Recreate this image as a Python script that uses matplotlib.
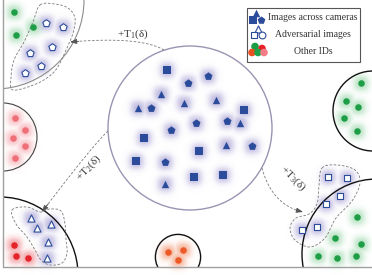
import numpy as np
import matplotlib
matplotlib.use('Agg')
import matplotlib.pyplot as plt
from matplotlib.patches import Circle, Rectangle

plt.rcParams['font.family'] = ['Liberation Serif', 'DejaVu Serif']
plt.rcParams['mathtext.fontset'] = 'custom'
plt.rcParams['mathtext.rm'] = 'Liberation Serif'
plt.rcParams['mathtext.it'] = 'Liberation Serif'

W, H = 372, 275

# ---- data (pixel positions) ----
# images across cameras (centre circle)
cam_sq_x = [167, 244, 144, 199, 136, 194, 223]
cam_sq_y = [70, 110, 138, 151, 161, 177, 175]
cam_pent_x = [188, 208, 151, 196, 227, 171, 252, 165]
cam_pent_y = [83, 76, 108, 123, 121, 130, 146, 162]
cam_tri_x = [161, 138, 184, 216, 240, 226, 165]
cam_tri_y = [94, 108, 103, 100, 123, 145, 184]

# adversarial images
adv_pent_x = [46, 63, 52, 30, 41, 25]
adv_pent_y = [23, 27, 47, 53, 66, 73]
adv_tri_x = [31, 37, 51, 48, 47]
adv_tri_y = [218, 228, 224, 242, 258]
adv_sq_x = [328, 347, 340, 326, 317, 302]
adv_sq_y = [177, 178, 196, 204, 227, 230]

# other IDs
green_tl_x = [14, 33, 16]
green_tl_y = [12, 27, 35]
pink_x = [15, 25, 13, 25, 15]
pink_y = [118, 130, 138, 146, 158]
red_x = [14, 16, 28]
red_y = [245, 256, 258]
orange_x = [168, 183, 178]
orange_y = [252, 250, 260]
green_tr_x = [361, 346, 358, 344, 357]
green_tr_y = [83, 101, 107, 118, 131]
green_br_x = [357, 335, 361, 318, 337, 356]
green_br_y = [217, 238, 244, 256, 258, 256]

legend_labels = ['Images across cameras', 'Adversarial images', 'Other IDs']
arrow_labels = [r'+T$_1$(δ)', r'+T$_2$(δ)', r'+T$_3$(δ)']

BLUE = '#2b4c9b'
GREEN = '#1e9e46'
PINK = '#ef6f79'
RED = '#e4232b'
ORANGE = '#ec5a28'

fig = plt.figure(figsize=(W / 100, H / 100), dpi=100)
ax = fig.add_axes([0, 0, 1, 1])

yy, xx = np.mgrid[0:H:0.5, 0:W:0.5]


def glow(xs, ys, color, half=6.5, soft=2.0, alpha=0.85):
    a = np.zeros_like(xx)
    for x, y in zip(xs, ys):
        fx = 1 / (1 + np.exp((np.abs(xx - x) - half) / soft))
        fy = 1 / (1 + np.exp((np.abs(yy - y) - half) / soft))
        a = np.maximum(a, fx * fy)
    img = np.zeros(xx.shape + (4,))
    img[..., :3] = matplotlib.colors.to_rgb(color)
    img[..., 3] = a * alpha
    ax.imshow(img, extent=(0, W, H, 0), interpolation='bilinear', zorder=1, aspect='auto')


def closed_curve(pts, n=30):
    P = np.array(pts, float)
    m = len(P)
    out = []
    t = np.linspace(0, 1, n, endpoint=False)[:, None]
    for i in range(m):
        p0, p1, p2, p3 = P[i - 1], P[i], P[(i + 1) % m], P[(i + 2) % m]
        out.append(0.5 * (2 * p1 + (-p0 + p2) * t + (2 * p0 - 5 * p1 + 4 * p2 - p3) * t ** 2
                          + (-p0 + 3 * p1 - 3 * p2 + p3) * t ** 3))
    out = np.vstack(out)
    return np.vstack([out, out[:1]])


def dashed_arrow(p0, p1, p2):
    p0, p1, p2 = map(np.array, (p0, p1, p2))
    t = np.linspace(0, 1, 80)[:, None]
    pts = (1 - t) ** 2 * p0 + 2 * (1 - t) * t * p1 + t ** 2 * p2
    ax.plot(pts[:-2, 0], pts[:-2, 1], ls=(0, (3, 2)), color='#7a7a7a', lw=0.6, zorder=3)
    ax.annotate('', xy=pts[-1], xytext=pts[-6],
                arrowprops=dict(arrowstyle='-|>,head_length=0.4,head_width=0.15',
                                color='#555555', lw=0.6, shrinkA=0, shrinkB=0), zorder=3)


# glows
glow(cam_sq_x + cam_pent_x + cam_tri_x, cam_sq_y + cam_pent_y + cam_tri_y, '#aca5d6')
glow(adv_pent_x + adv_tri_x + adv_sq_x, adv_pent_y + adv_tri_y + adv_sq_y, '#aca5d6')
glow(green_tl_x + green_tr_x + green_br_x, green_tl_y + green_tr_y + green_br_y, '#a0d8ae')
glow(pink_x, pink_y, '#f5aab0')
glow(red_x, red_y, '#ef8489')
glow(orange_x, orange_y, '#f49b78')

clip = Rectangle((3, 0), W - 3, 267, transform=ax.transData)

# region circles
circles = [((190, 128), 82, '#9c93b3', 1.0),
           ((-5, 0), 89, '#8c8c8c', 0.8),
           ((3, 137), 34, '#444444', 0.8),
           ((0, 275), 78, '#111111', 1.0),
           ((178, 257), 22.6, '#111111', 1.0),
           ((373, 111), 40, '#111111', 1.0),
           ((377, 254), 75, '#111111', 1.0)]
for c, r, col, lw in circles:
    p = Circle(c, r, fill=False, ec=col, lw=lw, zorder=2)
    ax.add_patch(p)
    p.set_clip_path(clip)

# frame
ax.plot([3, 3, W], [0, 267, 267], color='#a0a0a0', lw=1.0, zorder=2)

# dashed loops round adversarial images
loops = [
    [(40, 5), (55, 4), (68, 8), (75, 18), (73, 33), (67, 48), (60, 63), (52, 74),
     (36, 84), (13, 90), (11, 78), (14, 60), (24, 42), (33, 22)],
    [(12, 210), (27, 207), (40, 212), (50, 209), (61, 211), (65, 224), (66, 240),
     (67, 253), (62, 263), (50, 265), (41, 260), (35, 250), (27, 237), (16, 224)],
    [(322, 168), (337, 165), (355, 170), (360, 183), (352, 201), (336, 218), (325, 238),
     (310, 247), (295, 240), (290, 228), (296, 218), (309, 214), (317, 204), (319, 186)],
]
for lp in loops:
    c = closed_curve(lp)
    ax.plot(c[:, 0], c[:, 1], ls=(0, (3, 2)), color='#7a7a7a', lw=0.6, zorder=3)

# arrows
dashed_arrow((164, 50), (140, 36), (70, 42))
dashed_arrow((108, 131), (92, 146), (42, 212))
dashed_arrow((262, 168), (272, 205), (303, 212))
ax.text(133, 34, arrow_labels[0], fontsize=8, ha='center', va='center', color='#333333', zorder=4)
ax.text(89, 168, arrow_labels[1], fontsize=8, ha='center', va='center', color='#333333',
        rotation=47, zorder=4)
ax.text(293, 178, arrow_labels[2], fontsize=8, ha='center', va='center', color='#333333',
        rotation=-45, zorder=4)

# markers
ax.scatter(cam_sq_x, cam_sq_y, marker='s', s=26, color=BLUE, lw=0, zorder=5)
ax.scatter(cam_pent_x, cam_pent_y, marker='p', s=36, color=BLUE, lw=0, zorder=5)
ax.scatter(cam_tri_x, cam_tri_y, marker='^', s=28, color=BLUE, lw=0, zorder=5)
ax.scatter(adv_pent_x, adv_pent_y, marker='p', s=30, fc='white', ec=BLUE, lw=0.8, zorder=5)
ax.scatter(adv_tri_x, adv_tri_y, marker='^', s=26, fc='white', ec=BLUE, lw=0.8, zorder=5)
ax.scatter(adv_sq_x, adv_sq_y, marker='s', s=22, fc='white', ec=BLUE, lw=0.8, zorder=5)
for xs, ys, col in [(green_tl_x, green_tl_y, GREEN), (green_tr_x, green_tr_y, GREEN),
                    (green_br_x, green_br_y, GREEN), (pink_x, pink_y, PINK),
                    (red_x, red_y, RED), (orange_x, orange_y, ORANGE)]:
    ax.scatter(xs, ys, marker='o', s=22, color=col, lw=0, zorder=5)

# legend box
ax.add_patch(Rectangle((247, 7.5), 113, 54, fc='white', ec='#555555', lw=0.8, zorder=6))
ax.scatter([256], [13], marker='^', s=30, color=BLUE, lw=0, zorder=7)
ax.scatter([253], [19.5], marker='s', s=26, color=BLUE, lw=0, zorder=7)
ax.scatter([261], [19.5], marker='p', s=34, color=BLUE, lw=0, zorder=7)
ax.scatter([258], [29], marker='^', s=26, fc='white', ec=BLUE, lw=0.8, zorder=7)
ax.scatter([254], [35], marker='s', s=22, fc='white', ec=BLUE, lw=0.8, zorder=7)
ax.scatter([262], [35], marker='o', s=24, fc='white', ec=BLUE, lw=0.8, zorder=7)
ax.scatter([255, 262, 252, 258, 264], [46.5, 48.5, 52.5, 52.5, 52.5], marker='o', s=30,
           color=['#1a9e44', '#e82028', '#ec5020', '#1fa34a', '#f27d86'], lw=0, zorder=7)
for i, lab in enumerate(legend_labels):
    ax.text(313, 17.5 + 17 * i, lab, fontsize=7, ha='center', va='center', color='#333333', zorder=7)

ax.set_xlim(0, W)
ax.set_ylim(H, 0)
ax.axis('off')
fig.savefig('out.png', dpi=100)
